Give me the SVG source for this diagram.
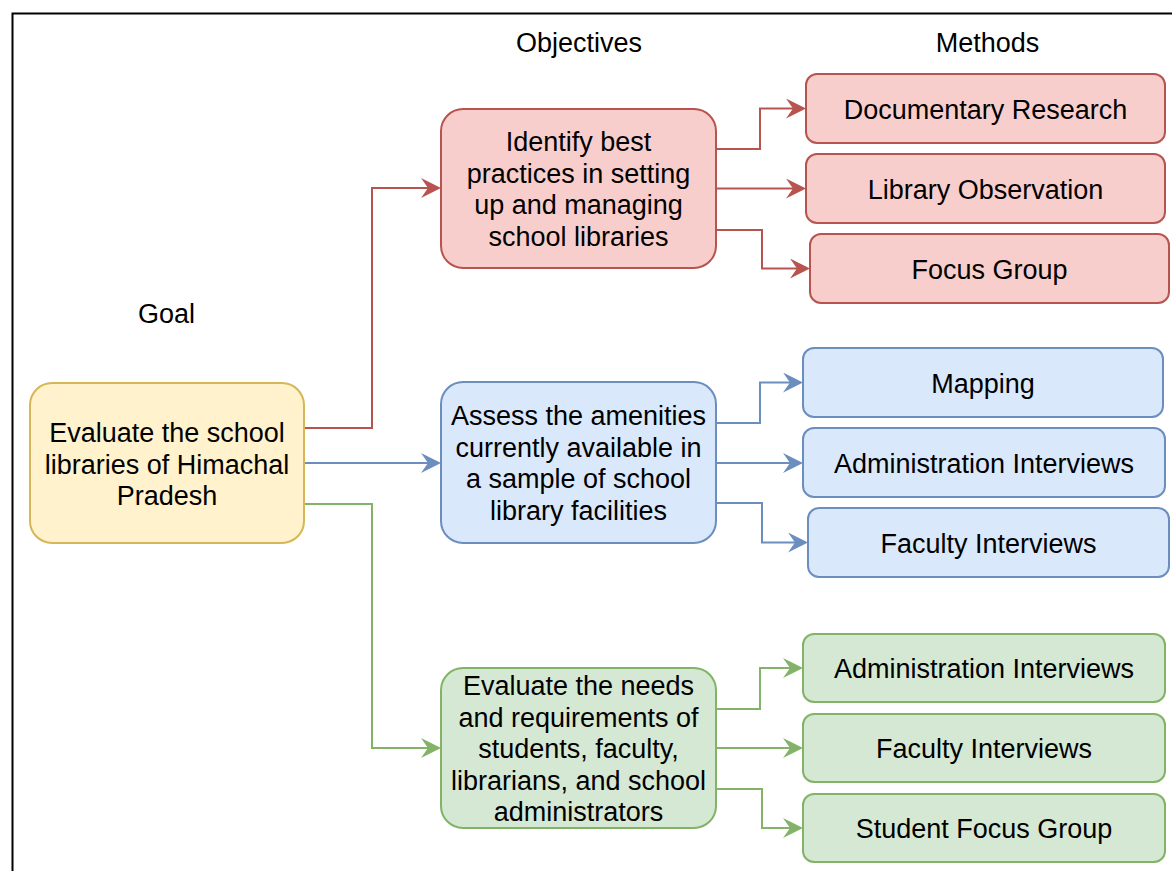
<svg xmlns="http://www.w3.org/2000/svg" width="1172" height="871" viewBox="0 0 1172 871">
<style>
text{font-family:"Liberation Sans",Arial,Helvetica,sans-serif;font-size:27px;fill:#000;text-anchor:middle}
.red{fill:#f8cecc;stroke:#b85450;stroke-width:2}
.blue{fill:#dae8fc;stroke:#6c8ebf;stroke-width:2}
.green{fill:#d5e8d4;stroke:#82b366;stroke-width:2}
.yellow{fill:#fff2cc;stroke:#d6b656;stroke-width:2}
.cr{fill:none;stroke:#b85450;stroke-width:2;marker-end:url(#ar)}
.cb{fill:none;stroke:#6c8ebf;stroke-width:2;marker-end:url(#ab)}
.cg{fill:none;stroke:#82b366;stroke-width:2;marker-end:url(#ag)}
</style>
<defs>
<marker id="ar" markerUnits="userSpaceOnUse" markerWidth="20" markerHeight="20" viewBox="0 0 20 20" refX="12" refY="10" orient="auto"><path d="M0,0 L20,10 L0,20 L7,10 Z" fill="#b85450"/></marker>
<marker id="ab" markerUnits="userSpaceOnUse" markerWidth="20" markerHeight="20" viewBox="0 0 20 20" refX="12" refY="10" orient="auto"><path d="M0,0 L20,10 L0,20 L7,10 Z" fill="#6c8ebf"/></marker>
<marker id="ag" markerUnits="userSpaceOnUse" markerWidth="20" markerHeight="20" viewBox="0 0 20 20" refX="12" refY="10" orient="auto"><path d="M0,0 L20,10 L0,20 L7,10 Z" fill="#82b366"/></marker>
</defs>
<rect x="0" y="0" width="1172" height="871" fill="#fff"/>
<rect x="12.5" y="13.5" width="1200" height="900" fill="none" stroke="#000" stroke-width="2"/>
<g id="headers">
<text x="166.5" y="323">Goal</text>
<text x="579" y="51.5">Objectives</text>
<text x="987.5" y="51.5">Methods</text>
</g>
<g id="connectors">
<path class="cr" d="M304,428 H372 V188 H433"/>
<path class="cb" d="M304,463 H433"/>
<path class="cg" d="M304,504 H372 V748 H433"/>
<path class="cr" d="M716,149 H760 V108.5 H798"/>
<path class="cr" d="M716,188.5 H798"/>
<path class="cr" d="M716,230 H762 V268.5 H802"/>
<path class="cb" d="M716,423 H760 V382.5 H795"/>
<path class="cb" d="M716,463 H795"/>
<path class="cb" d="M716,503 H762 V542.5 H800"/>
<path class="cg" d="M716,709 H760 V668 H795"/>
<path class="cg" d="M716,748 H795"/>
<path class="cg" d="M716,789 H762 V828 H795"/>
</g>
<g id="goal">
<rect class="yellow" x="30" y="383" width="274" height="160" rx="22"/>
<text x="167" y="442">Evaluate the school</text>
<text x="167" y="473.5">libraries of Himachal</text>
<text x="167" y="505">Pradesh</text>
</g>
<g id="obj1">
<rect class="red" x="441" y="109" width="275" height="159" rx="22"/>
<text x="578.5" y="151">Identify best</text>
<text x="578.5" y="182.5">practices in setting</text>
<text x="578.5" y="214">up and managing</text>
<text x="578.5" y="245.5">school libraries</text>
</g>
<g id="obj2">
<rect class="blue" x="441" y="382" width="275" height="161" rx="22"/>
<text x="578.5" y="425">Assess the amenities</text>
<text x="578.5" y="456.5">currently available in</text>
<text x="578.5" y="488">a sample of school</text>
<text x="578.5" y="519.5">library facilities</text>
</g>
<g id="obj3">
<rect class="green" x="441" y="668" width="275" height="160" rx="22"/>
<text x="578.5" y="695">Evaluate the needs</text>
<text x="578.5" y="726.5">and requirements of</text>
<text x="578.5" y="758">students, faculty,</text>
<text x="578.5" y="789.5">librarians, and school</text>
<text x="578.5" y="821">administrators</text>
</g>
<g id="m1">
<rect class="red" x="806" y="74" width="359" height="69" rx="11"/>
<text x="985.5" y="118.5">Documentary Research</text>
</g>
<g id="m2">
<rect class="red" x="806" y="154" width="359" height="69" rx="11"/>
<text x="985.5" y="198.5">Library Observation</text>
</g>
<g id="m3">
<rect class="red" x="810" y="234" width="359" height="69" rx="11"/>
<text x="989.5" y="278.5">Focus Group</text>
</g>
<g id="m4">
<rect class="blue" x="803" y="348" width="360" height="69" rx="11"/>
<text x="983" y="392.5">Mapping</text>
</g>
<g id="m5">
<rect class="blue" x="803" y="428" width="362" height="69" rx="11"/>
<text x="984" y="472.5">Administration Interviews</text>
</g>
<g id="m6">
<rect class="blue" x="808" y="508" width="361" height="69" rx="11"/>
<text x="988.5" y="552.5">Faculty Interviews</text>
</g>
<g id="m7">
<rect class="green" x="803" y="634" width="362" height="68" rx="11"/>
<text x="984" y="678">Administration Interviews</text>
</g>
<g id="m8">
<rect class="green" x="803" y="714" width="362" height="68" rx="11"/>
<text x="984" y="758">Faculty Interviews</text>
</g>
<g id="m9">
<rect class="green" x="803" y="794" width="362" height="68" rx="11"/>
<text x="984" y="838">Student Focus Group</text>
</g>
</svg>
